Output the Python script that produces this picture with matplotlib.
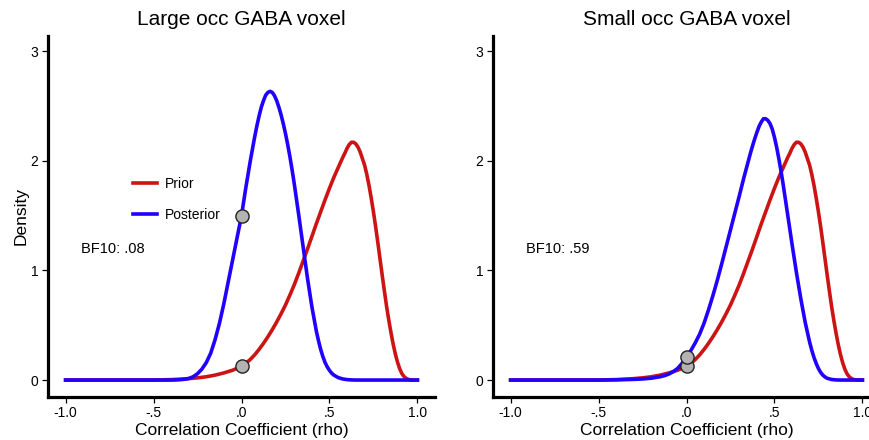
import numpy as np
import matplotlib
matplotlib.use("Agg")
import matplotlib.pyplot as plt

plt.rcParams['font.family'] = ['Liberation Sans', 'DejaVu Sans']

# ---- data ----
prior_rho = [
    -1.0, -0.5, -0.45, -0.4, -0.35, -0.3, -0.25, -0.2, -0.15, -0.1, -0.05,
    0.0, 0.025, 0.05, 0.075, 0.1, 0.125, 0.15, 0.175, 0.2, 0.225, 0.25,
    0.275, 0.3, 0.325, 0.35, 0.375, 0.4, 0.425, 0.45, 0.475, 0.5, 0.525,
    0.55, 0.5625, 0.575, 0.5875, 0.6, 0.6125, 0.625, 0.6375, 0.65, 0.6625,
    0.675, 0.6875, 0.7, 0.7125, 0.725, 0.7375, 0.75, 0.7625, 0.775, 0.7875,
    0.8, 0.8125, 0.825, 0.8375, 0.85, 0.8625, 0.875, 0.8875, 0.9, 0.9125,
    0.925, 0.9375, 0.95, 0.9625, 0.975, 1.0]
prior_density = [
    0.0, 0.0, 0.002, 0.004, 0.008, 0.013, 0.020, 0.030, 0.045, 0.065, 0.090,
    0.125, 0.153, 0.188, 0.23, 0.28, 0.335, 0.395, 0.46, 0.53, 0.605, 0.685,
    0.775, 0.87, 0.975, 1.085, 1.195, 1.31, 1.425, 1.535, 1.645, 1.75, 1.85,
    1.94, 1.985, 2.03, 2.07, 2.115, 2.15, 2.17, 2.17, 2.155, 2.125,
    2.08, 2.02, 1.96, 1.875, 1.775, 1.66, 1.535, 1.40, 1.255, 1.105,
    0.955, 0.81, 0.67, 0.545, 0.43, 0.325, 0.235, 0.16, 0.10, 0.057,
    0.03, 0.014, 0.005, 0.001, 0.0, 0.0]

post_large_rho = [
    -1.0, -0.4, -0.375, -0.35, -0.325, -0.3, -0.275, -0.25, -0.225, -0.2,
    -0.175, -0.15, -0.125, -0.1, -0.075, -0.05, -0.025, 0.0, 0.025, 0.05,
    0.0625, 0.075, 0.0875, 0.1, 0.1125, 0.125, 0.1375, 0.15, 0.1625, 0.175,
    0.1875, 0.2, 0.2125, 0.225, 0.2375, 0.25, 0.2625, 0.275, 0.2875, 0.3,
    0.325, 0.35, 0.375, 0.4, 0.425, 0.4375, 0.45, 0.4625, 0.475, 0.4875,
    0.5, 0.5125, 0.525, 0.55, 0.575, 0.6, 0.625, 0.65, 1.0]
post_large_density = [
    0.0, 0.0, 0.001, 0.003, 0.007, 0.014, 0.03, 0.058, 0.10, 0.16,
    0.245, 0.37, 0.52, 0.70, 0.90, 1.10, 1.30, 1.50, 1.76, 2.00,
    2.11, 2.22, 2.32, 2.41, 2.49, 2.55, 2.60, 2.625, 2.635, 2.625,
    2.595, 2.55, 2.49, 2.42, 2.34, 2.25, 2.15, 2.04, 1.92, 1.79,
    1.51, 1.22, 0.93, 0.67, 0.45, 0.36, 0.28, 0.215, 0.16, 0.12,
    0.088, 0.063, 0.045, 0.022, 0.01, 0.004, 0.001, 0.0, 0.0]

post_small_rho = [
    -1.0, -0.5, -0.45, -0.4, -0.35, -0.3, -0.25, -0.2, -0.15, -0.125, -0.1,
    -0.075, -0.05, -0.025, 0.0, 0.025, 0.05, 0.075, 0.1, 0.125, 0.15, 0.175,
    0.2, 0.225, 0.25, 0.275, 0.3, 0.325, 0.35, 0.3625, 0.375, 0.3875, 0.4,
    0.4125, 0.425, 0.4375, 0.45, 0.4625, 0.475, 0.4875, 0.5, 0.5125, 0.525,
    0.5375, 0.55, 0.5625, 0.575, 0.5875, 0.6, 0.625, 0.65, 0.675, 0.7,
    0.7125, 0.725, 0.7375, 0.75, 0.7625, 0.775, 0.7875, 0.8, 0.825, 0.85,
    0.875, 1.0]
post_small_density = [
    0.0, 0.0, 0.001, 0.002, 0.004, 0.006, 0.010, 0.017, 0.030, 0.040, 0.055,
    0.077, 0.107, 0.153, 0.21, 0.27, 0.34, 0.42, 0.52, 0.64, 0.77, 0.91,
    1.06, 1.215, 1.37, 1.525, 1.68, 1.84, 1.99, 2.065, 2.135, 2.20, 2.26,
    2.315, 2.355, 2.385, 2.385, 2.37, 2.34, 2.29, 2.215, 2.125, 2.02,
    1.905, 1.78, 1.645, 1.51, 1.375, 1.24, 0.98, 0.74, 0.525, 0.345,
    0.27, 0.205, 0.15, 0.105, 0.07, 0.045, 0.028, 0.016, 0.005, 0.001,
    0.0, 0.0]

prior_at_zero = [0.125, 0.125]          # grey points at rho = 0
posterior_at_zero = [1.50, 0.21]

panel_titles = ["Large occ GABA voxel", "Small occ GABA voxel"]
bf_labels = ["BF10: .08", "BF10: .59"]
legend_labels = ["Prior", "Posterior"]

x_ticks = [-1.0, -0.5, 0.0, 0.5, 1.0]
x_ticklabels = ["-1.0", "-.5", ".0", ".5", "1.0"]
y_ticks = [0, 1, 2, 3]

posteriors = [(post_large_rho, post_large_density),
              (post_small_rho, post_small_density)]

RED = "#cc1414"
BLUE = "#2000ff"

# ---- figure ----
W, H = 869, 440
fig = plt.figure(figsize=(W / 100, H / 100), dpi=100)

ax_w = 387 / W
ax_b = (H - 396.7) / H
ax_h = (396.7 - 36) / H
lefts = [48 / W, 493 / W]

for k in range(2):
    ax = fig.add_axes([lefts[k], ax_b, ax_w, ax_h])
    px, py = posteriors[k]
    lp, = ax.plot(prior_rho, prior_density, color=RED, lw=2.6,
                  solid_joinstyle='round', label=legend_labels[0], zorder=2)
    lq, = ax.plot(px, py, color=BLUE, lw=2.6, solid_joinstyle='round',
                  label=legend_labels[1], zorder=3)
    ax.plot([0.0, 0.0], [prior_at_zero[k], posterior_at_zero[k]],
            linestyle='none', marker='o', markersize=9.5,
            markerfacecolor='#b3b3b3', markeredgecolor='#222222',
            markeredgewidth=1.0, zorder=4)

    ax.set_xlim(-1.1, 1.1)
    ax.set_ylim(-0.152, 3.14)
    ax.set_xticks(x_ticks)
    ax.set_xticklabels(x_ticklabels)
    ax.set_yticks(y_ticks)
    for s in ['top', 'right']:
        ax.spines[s].set_visible(False)
    for s in ['left', 'bottom']:
        ax.spines[s].set_linewidth(2.3)
        ax.spines[s].set_color('black')
    ax.tick_params(axis='both', direction='out', length=4, width=0.9,
                   labelsize=10, colors='black', pad=3)

    ax.set_title(panel_titles[k], fontsize=15, pad=8)
    ax.set_xlabel("Correlation Coefficient (rho)", fontsize=12.5, labelpad=2)
    if k == 0:
        ax.set_ylabel("Density", fontsize=12.5, labelpad=1)
        ax.legend(handles=[lp, lq], loc='center left',
                  bbox_to_anchor=((133 - 48) / 387, (396.7 - 199.5) / 360.7),
                  frameon=False, fontsize=10, handlelength=1.75,
                  handletextpad=0.55, labelspacing=1.2, borderpad=0,
                  borderaxespad=0)
    ax.text(-0.91, 1.2, bf_labels[k], fontsize=10.5, ha='left', va='center')

fig.savefig("out.png", dpi=100)
